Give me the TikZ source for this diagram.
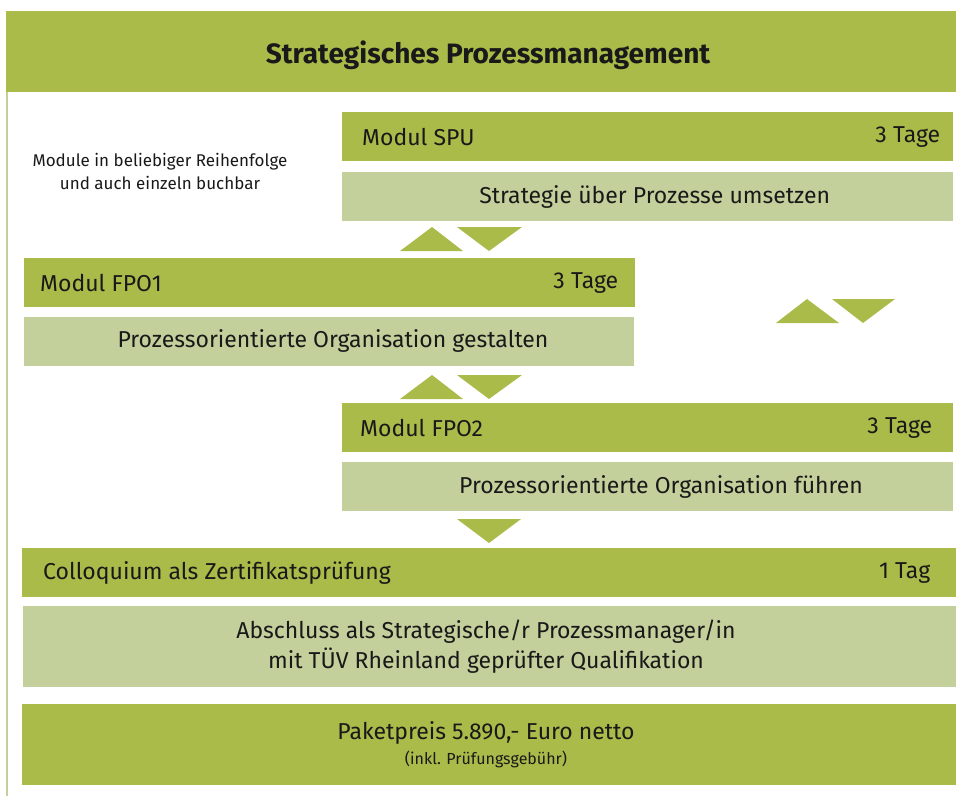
\documentclass[tikz,border=0pt]{standalone}
\usepackage{fontspec}
\setmainfont{Fira Sans}
\definecolor{darkg}{RGB}{170,187,73}
\definecolor{lightg}{RGB}{195,208,155}
\definecolor{txt}{RGB}{25,25,25}
\tikzset{
  box/.style={draw=none, inner sep=0pt, anchor=north west},
  darkbox/.style={box, fill=darkg},
  lightbox/.style={box, fill=lightg},
  lbl/.style={inner sep=0pt, text=txt, font=\fontsize{23}{27}\selectfont},
  small/.style={inner sep=0pt, text=txt, font=\fontsize{17}{23}\selectfont, align=center},
  tri/.style={fill=darkg, draw=none}
}
\begin{document}
\begin{tikzpicture}[x=1pt,y=-1pt]
\useasboundingbox (0,0) rectangle (956,796);
% left line
\coordinate (lt) at (7,92);
\coordinate (lb) at (7,796);
\draw[lightg, line width=2pt] (lt) -- (lb);
% title
\node[darkbox, minimum width=950pt, minimum height=81pt] (title) at (6,11) {};
\node[inner sep=0pt, text=txt, font=\fontsize{28}{32}\selectfont\bfseries] (titletxt) at (488,55) {Strategisches Prozessmanagement};
% note
\node[small] (note) at (160,171) {Module in beliebiger Reihenfolge\\und auch einzeln buchbar};
% SPU
\node[darkbox, minimum width=611pt, minimum height=49pt] (spu) at (342,112) {};
\node[lbl, anchor=west] (spuname) at ([xshift=20pt]spu.west) {Modul SPU};
\node[lbl, anchor=east] (spudays) at ([xshift=-13pt]spu.east) {3 Tage};
\node[lightbox, minimum width=611pt, minimum height=49pt] (spul) at (342,172) {};
\node[lbl] (spultxt) at ([xshift=7pt]spul.center) {Strategie über Prozesse umsetzen};
% triangles 1
\fill[tri] (400,251) -- (432,227) -- (463,251) -- cycle;
\fill[tri] (457,227) -- (522,227) -- (489,251) -- cycle;
% FPO1
\node[darkbox, minimum width=611pt, minimum height=49pt] (fpo1) at (24,258) {};
\node[lbl, anchor=west] (fpo1name) at ([xshift=16pt]fpo1.west) {Modul FPO1};
\node[lbl, anchor=east] (fpo1days) at ([xshift=-17pt]fpo1.east) {3 Tage};
\node[lightbox, minimum width=610pt, minimum height=49pt] (fpo1l) at (24,317) {};
\node[lbl] (fpo1ltxt) at (333,341) {Prozessorientierte Organisation gestalten};
% right triangles
\fill[tri] (776,323) -- (807,299) -- (839,323) -- cycle;
\fill[tri] (832,299) -- (895,299) -- (863,323) -- cycle;
% triangles 2
\fill[tri] (400,399) -- (432,375) -- (463,399) -- cycle;
\fill[tri] (457,375) -- (522,375) -- (489,399) -- cycle;
% FPO2
\node[darkbox, minimum width=611pt, minimum height=49pt] (fpo2) at (342,403) {};
\node[lbl, anchor=west] (fpo2name) at ([xshift=18pt]fpo2.west) {Modul FPO2};
\node[lbl, anchor=east] (fpo2days) at ([xshift=-21pt]fpo2.east) {3 Tage};
\node[lightbox, minimum width=611pt, minimum height=49pt] (fpo2l) at (342,462) {};
\node[lbl] (fpo2ltxt) at (661,487) {Prozessorientierte Organisation führen};
% triangle 3
\fill[tri] (457,519) -- (521,519) -- (489,543) -- cycle;
% Colloquium
\node[darkbox, minimum width=934pt, minimum height=49pt] (coll) at (22,548) {};
\node[lbl, anchor=west] (collname) at ([xshift=21pt]coll.west) {Colloquium als Zertifikatsprüfung};
\node[lbl, anchor=east] (colldays) at ([xshift=-26pt]coll.east) {1 Tag};
% Abschluss
\node[lightbox, minimum width=933pt, minimum height=81pt] (absch) at (23,606) {};
\node[lbl, align=center, font=\fontsize{23}{30}\selectfont] (abschtxt) at (486,647) {Abschluss als Strategische/r Prozessmanager/in\\mit TÜV Rheinland geprüfter Qualifikation};
% Paket
\node[darkbox, minimum width=934pt, minimum height=81pt] (paket) at (22,704) {};
\node[lbl] (pakettxt) at (486,733) {Paketpreis 5.890,- Euro netto};
\node[inner sep=0pt, text=txt, font=\fontsize{16}{18}\selectfont] (paketsub) at (486,759) {(inkl. Prüfungsgebühr)};
\end{tikzpicture}
\end{document}
